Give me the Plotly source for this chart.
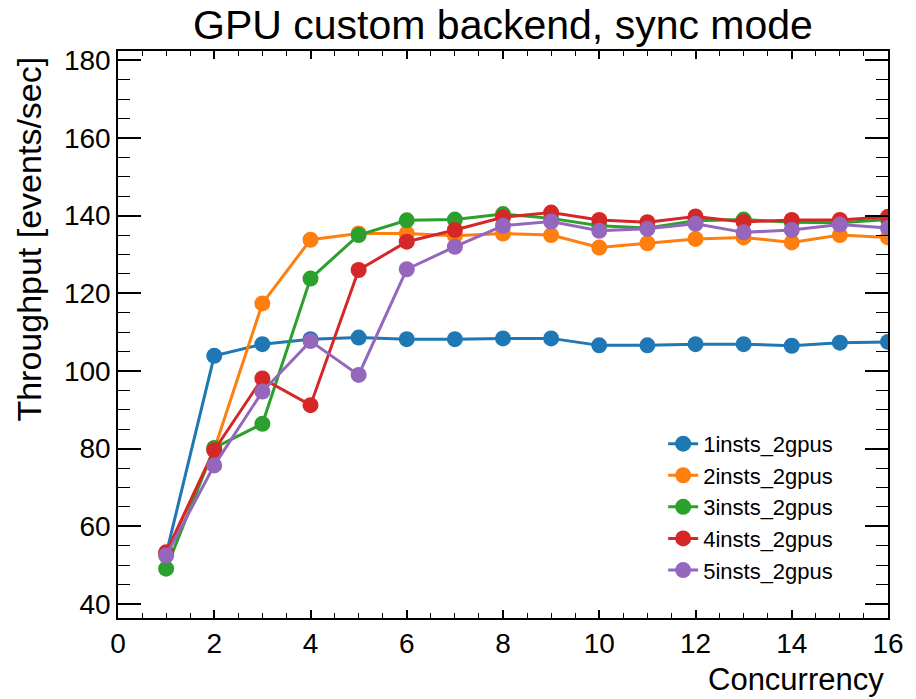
import plotly.graph_objects as go

concurrency = list(range(1, 17))
series_names = ["1insts_2gpus", "2insts_2gpus", "3insts_2gpus", "4insts_2gpus", "5insts_2gpus"]
inst1 = [52.8, 103.9, 106.9, 108.2, 108.6, 108.2, 108.2, 108.4, 108.4, 106.6, 106.6, 106.9, 106.9, 106.5, 107.3, 107.5]
inst2 = [53.0, 79.8, 117.4, 133.8, 135.4, 135.4, 134.8, 135.4, 135.0, 131.8, 132.9, 134.0, 134.4, 133.1, 135.0, 134.4]
inst3 = [49.1, 80.2, 86.4, 123.8, 135.0, 138.8, 139.0, 140.4, 139.3, 137.4, 136.8, 138.7, 139.0, 138.3, 138.2, 139.0]
inst4 = [53.3, 79.6, 98.1, 91.2, 126.0, 133.3, 136.3, 139.6, 140.8, 138.9, 138.3, 139.8, 138.4, 138.9, 138.9, 139.7]
inst5 = [52.5, 75.7, 94.7, 107.7, 99.0, 126.2, 132.0, 137.4, 138.5, 136.1, 136.6, 137.9, 135.7, 136.3, 137.7, 136.8]
colors = ["#1f77b4", "#ff7f0e", "#2ca02c", "#d62728", "#9467bd"]
x_ticks = [0, 2, 4, 6, 8, 10, 12, 14, 16]
y_ticks = [40, 60, 80, 100, 120, 140, 160, 180]

FONT = "Liberation Sans, Arial, sans-serif"

fig = go.Figure()
for name, vals, col in zip(series_names, [inst1, inst2, inst3, inst4, inst5], colors):
    fig.add_trace(go.Scatter(
        x=concurrency, y=vals, name=name, mode="lines+markers",
        line=dict(color=col, width=3),
        marker=dict(color=col, size=16),
    ))

axis_common = dict(
    showgrid=False, zeroline=False, showline=True, linecolor="black", linewidth=1.5,
    mirror="allticks", ticks="inside", tickcolor="black",
    tickfont=dict(family=FONT, size=28, color="black"),
)
fig.update_xaxes(range=[0, 16], tickvals=x_ticks, ticklen=8, tickwidth=1.5,
                 minor=dict(dtick=0.5, tick0=0, ticklen=5, ticks="inside", tickcolor="black", tickwidth=1),
                 **axis_common)
fig.update_yaxes(range=[36.4, 182.4], tickvals=y_ticks, ticklen=23, tickwidth=1.5,
                 minor=dict(dtick=5, tick0=0, ticklen=12, ticks="inside", tickcolor="black", tickwidth=1),
                 **axis_common)

fig.update_layout(
    width=916, height=699,
    margin=dict(l=118, r=19, t=51, b=81),
    paper_bgcolor="white", plot_bgcolor="white",
    font=dict(family=FONT, color="black"),
    title=dict(text="GPU custom backend, sync mode", x=0.5, xref="paper", xanchor="center",
               y=1 - 25 / 699, yref="container", yanchor="middle",
               font=dict(family=FONT, size=41, color="black")),
    legend=dict(x=0.708, y=0.196, xanchor="left", yanchor="middle", bgcolor="rgba(0,0,0,0)",
                font=dict(family=FONT, size=22, color="black"), tracegroupgap=0),
    showlegend=True,
    annotations=[
        dict(text="Concurrency", xref="paper", yref="paper", x=0.998, y=-0.109,
             xanchor="right", yanchor="middle", showarrow=False,
             font=dict(family=FONT, size=31, color="black")),
        dict(text="Throughput [events/sec]", xref="paper", yref="paper", x=-0.116, y=0.994,
             xanchor="center", yanchor="top", textangle=-90, showarrow=False,
             font=dict(family=FONT, size=34, color="black")),
    ],
)

fig.write_html("out.html")
